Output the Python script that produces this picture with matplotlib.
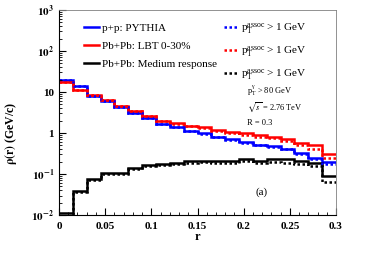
import numpy as np
import matplotlib
matplotlib.use("Agg")
from matplotlib import pyplot as plt
from matplotlib.ticker import MultipleLocator, LogLocator, NullFormatter, FixedLocator

plt.rcParams['font.family'] = ['Liberation Serif', 'DejaVu Serif']
plt.rcParams['mathtext.fontset'] = 'stix'

# bin edges in r
r_edges = np.linspace(0, 0.3, 21)

# jet shape rho(r)
pp_solid = [20, 14, 8.2, 6.0, 4.4, 3.1, 2.3, 1.7, 1.4, 1.15,
            0.98, 0.82, 0.70, 0.60, 0.52, 0.48, 0.42, 0.33, 0.25, 0.20]
pp_dot = [20, 14, 8.2, 6.0, 4.3, 3.1, 2.3, 1.7, 1.4, 1.15,
          0.97, 0.80, 0.68, 0.58, 0.50, 0.46, 0.40, 0.31, 0.23, 0.18]
lbt_solid = [18, 11, 8.4, 6.3, 4.6, 3.4, 2.6, 2.0, 1.75, 1.5,
             1.4, 1.2, 1.07, 0.98, 0.88, 0.82, 0.70, 0.56, 0.50, 0.30]
lbt_dot = [18, 11, 8.4, 6.3, 4.5, 3.4, 2.6, 2.0, 1.7, 1.5,
           1.35, 1.15, 1.0, 0.92, 0.82, 0.76, 0.64, 0.50, 0.42, 0.24]
med_solid = [0.0114, 0.039, 0.078, 0.104, 0.104, 0.143, 0.163, 0.178, 0.19, 0.205,
             0.21, 0.21, 0.21, 0.23, 0.21, 0.23, 0.23, 0.21, 0.19, 0.088]
med_dot = [0.0095, 0.037, 0.073, 0.098, 0.098, 0.135, 0.155, 0.17, 0.18, 0.19,
           0.195, 0.19, 0.19, 0.21, 0.19, 0.20, 0.19, 0.18, 0.16, 0.063]

labels_solid = ["p+p: PYTHIA", "Pb+Pb: LBT 0-30%", "Pb+Pb: Medium response"]
label_dot = r"$\mathregular{p_T^{assoc}}$ > 1 GeV"

fig = plt.figure(figsize=(3.65, 2.62), dpi=100)
ax = fig.add_axes([0.1616, 0.179, 0.759, 0.783])

lw = 1.8
h1 = ax.stairs(pp_solid, r_edges, color='blue', lw=lw, baseline=None)
h2 = ax.stairs(lbt_solid, r_edges, color='red', lw=lw, baseline=None)
h3 = ax.stairs(med_solid, r_edges, color='black', lw=lw, baseline=None)
d1 = ax.stairs(pp_dot, r_edges, color='blue', lw=lw, ls=(0, (1, 1)), baseline=None)
d2 = ax.stairs(lbt_dot, r_edges, color='red', lw=lw, ls=(0, (1, 1)), baseline=None)
d3 = ax.stairs(med_dot, r_edges, color='black', lw=lw, ls=(0, (1, 1)), baseline=None)

ax.set_yscale('log')
ax.set_xlim(0, 0.3)
ax.set_ylim(1e-2, 1e3)

ax.xaxis.set_major_locator(FixedLocator([0, 0.05, 0.1, 0.15, 0.2, 0.25, 0.3]))
ax.set_xticklabels(['0', '0.05', '0.1', '0.15', '0.2', '0.25', '0.3'])
ax.xaxis.set_minor_locator(MultipleLocator(0.01))
ax.yaxis.set_major_locator(FixedLocator([1e-2, 1e-1, 1, 10, 1e2, 1e3]))
ax.set_yticklabels([r'$\mathbf{10^{-2}}$', r'$\mathbf{10^{-1}}$', '1', '10',
                    r'$\mathbf{10^{2}}$', r'$\mathbf{10^{3}}$'])
ax.yaxis.set_minor_locator(LogLocator(base=10, subs=np.arange(2, 10)))
ax.yaxis.set_minor_formatter(NullFormatter())

ax.tick_params(which='both', direction='in', top=False, right=False,
               labelsize=8)
ax.tick_params(which='major', length=5, width=0.8)
ax.tick_params(which='minor', length=2.5, width=0.6)
for lab in ax.get_xticklabels() + ax.get_yticklabels():
    lab.set_fontweight('bold')
ax.tick_params(axis='x', pad=5)

for s in ['top', 'right']:
    ax.spines[s].set_color('0.5')
    ax.spines[s].set_linewidth(0.6)

ax.set_xlabel('r', fontsize=9, fontweight='bold', labelpad=0)
ax.set_ylabel(r'$\mathbf{\rho(r)}$ (GeV/c)', fontsize=8.5, fontweight='bold')
ax.yaxis.set_label_coords(-0.145, 0.4)

ax.legend([h1, h2, h3, d1, d2, d3],
          labels_solid + [label_dot] * 3,
          ncol=2, loc='upper left', bbox_to_anchor=(0.055, 0.995),
          frameon=False, fontsize=8, handlelength=1.3, handletextpad=0.3,
          columnspacing=0.6, labelspacing=0.75)

ax.text(0.68, 0.59, r"$\mathregular{p_T^{\gamma}}$ > 80 GeV", transform=ax.transAxes,
        fontsize=6)
ax.text(0.68, 0.515, r"$\sqrt{s}$ = 2.76 TeV", transform=ax.transAxes, fontsize=6)
ax.text(0.68, 0.44, "R = 0.3", transform=ax.transAxes, fontsize=6)
ax.text(0.71, 0.10, "(a)", transform=ax.transAxes, fontsize=8)

fig.savefig("out.png", dpi=100)
